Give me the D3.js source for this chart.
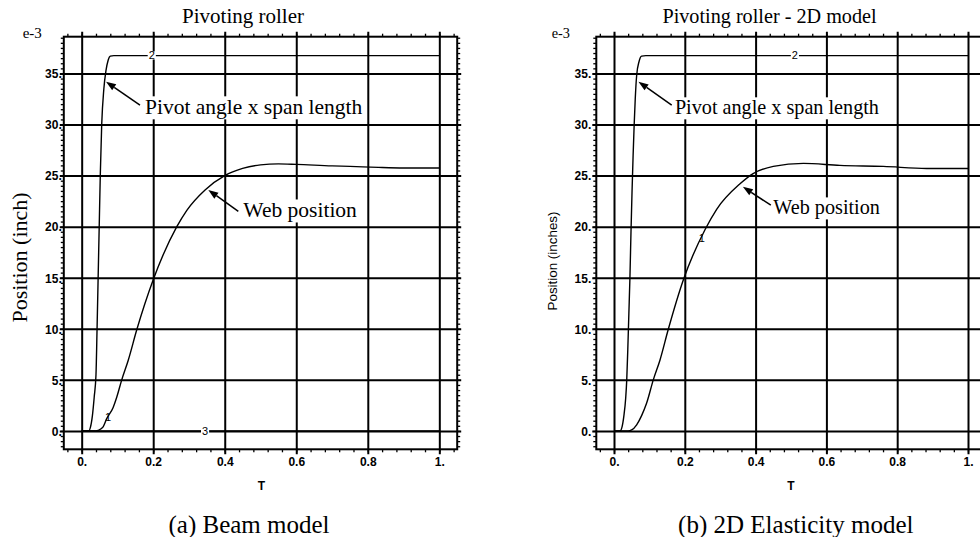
<!DOCTYPE html>
<html>
<head>
<meta charset="utf-8">
<script src="https://cdn.jsdelivr.net/npm/d3@7"></script>
<style>
  html, body { margin: 0; padding: 0; background: #fff; }
  svg { display: block; }
  text { fill: #000; }
</style>
</head>
<body>
<svg id="chart" width="980" height="537"></svg>
<script>
// ---------------- DATA ----------------
const xTickValues = [0, 0.2, 0.4, 0.6, 0.8, 1.0];
const xTickLabels = ["0.", "0.2", "0.4", "0.6", "0.8", "1."];
const yTickValues = [0, 5, 10, 15, 20, 25, 30, 35];
const yTickLabels = ["0.", "5.", "10.", "15.", "20.", "25.", "30.", "35."];

// (a) Beam model
const beamPivotT = [0, 0.02, 0.024, 0.03, 0.035, 0.04, 0.043, 0.046, 0.049, 0.052, 0.056, 0.062, 0.068, 0.074, 0.08, 0.09, 1.0];
const beamPivotY = [0, 0, 0.3, 1.5, 3.3, 5.5, 10, 15, 20, 25, 30, 33.5, 35.3, 36.3, 36.7, 36.75, 36.75];
const beamWebT = [0, 0.04, 0.046, 0.06, 0.07, 0.088, 0.098, 0.112, 0.13, 0.154, 0.2, 0.266, 0.294, 0.345, 0.4, 0.45, 0.5, 0.55, 0.6, 0.7, 0.75, 0.83, 0.9, 1.0];
const beamWebY = [0, 0, 0.05, 0.4, 1.2, 2.3, 3.3, 5.0, 6.9, 9.9, 14.8, 20, 21.6, 23.6, 25, 25.7, 26.05, 26.15, 26.1, 25.95, 25.9, 25.8, 25.75, 25.75];
const beamZeroT = [0, 1.0];
const beamZeroY = [0, 0];

// (b) 2D Elasticity model
const elasPivotT = [0, 0.017, 0.022, 0.028, 0.033, 0.036, 0.039, 0.042, 0.045, 0.048, 0.051, 0.054, 0.057, 0.060, 0.064, 0.071, 0.078, 0.09, 1.0];
const elasPivotY = [0, 0, 0.3, 1.5, 3.2, 5, 8, 11.5, 15, 19.5, 23.5, 27, 30, 32.5, 34.8, 36.2, 36.7, 36.75, 36.75];
const elasWebT = [0, 0.04, 0.05, 0.064, 0.078, 0.092, 0.111, 0.13, 0.153, 0.196, 0.257, 0.29, 0.356, 0.393, 0.45, 0.535, 0.638, 0.761, 0.883, 1.0];
const elasWebY = [0, 0, 0.1, 0.6, 1.5, 2.7, 5, 6.95, 9.9, 14.8, 19.7, 21.7, 24.2, 25.2, 25.9, 26.2, 26.0, 25.9, 25.7, 25.7];

const xDomain = [-0.05, 1.05];
const yDomain = [-1.8, 38.6];

// ---------------- DRAW ----------------
const svg = d3.select("#chart");
const SERIF = "'Liberation Serif', 'Times New Roman', serif";
const SANS = "'Liberation Sans', Arial, Helvetica, sans-serif";

function zip(a, b) { return a.map((t, i) => [t, b[i]]); }

function drawPanel(cfg) {
  const x = d3.scaleLinear().domain(xDomain).range(cfg.xRange);
  const y = d3.scaleLinear().domain(yDomain).range(cfg.yRange);
  const left = cfg.xRange[0], right = cfg.xRange[1];
  const bottom = cfg.yRange[0], top = cfg.yRange[1];
  const w = right - left, h = bottom - top;
  const g = svg.append("g");

  // Major grid lines (extend slightly beyond frame like ticks)
  const gx = g.append("g").attr("transform", `translate(0,${bottom + 5})`)
    .call(d3.axisBottom(x).tickValues(xTickValues).tickSize(-(h + 10)).tickFormat(""));
  gx.select(".domain").remove();
  gx.selectAll("line").attr("stroke", "#000").attr("stroke-width", 2);

  const gy = g.append("g").attr("transform", `translate(${left - 4},0)`)
    .call(d3.axisLeft(y).tickValues(yTickValues).tickSize(-(w + 8)).tickFormat(""));
  gy.select(".domain").remove();
  gy.selectAll("line").attr("stroke", "#000").attr("stroke-width", 2);

  // Minor ticks
  const minorX = d3.range(-1, 27).map(i => i * 0.04).filter(v => v > xDomain[0] && v < xDomain[1]);
  const minorY = d3.range(-3, 78).map(i => i * 0.5).filter(v => v > yDomain[0] && v < yDomain[1]);
  const minors = [
    [d3.axisBottom(x).tickValues(minorX), `translate(0,${bottom})`],
    [d3.axisTop(x).tickValues(minorX), `translate(0,${top})`],
    [d3.axisLeft(y).tickValues(minorY), `translate(${left},0)`],
    [d3.axisRight(y).tickValues(minorY), `translate(${right},0)`]
  ];
  minors.forEach(([ax, tr]) => {
    const m = g.append("g").attr("transform", tr).call(ax.tickSize(3).tickFormat(""));
    m.select(".domain").remove();
    m.selectAll("line").attr("stroke", "#000").attr("stroke-width", 1.3);
  });

  // Frame
  g.append("rect").attr("x", left).attr("y", top).attr("width", w).attr("height", h)
    .attr("fill", "none").attr("stroke", "#000").attr("stroke-width", 2);

  // Tick labels
  const lx = g.append("g").attr("transform", `translate(0,${bottom})`)
    .call(d3.axisBottom(x).tickValues(xTickValues).tickSize(0).tickFormat((d, i) => xTickLabels[i]));
  lx.select(".domain").remove();
  lx.selectAll("text").attr("y", 17).attr("dy", 0)
    .attr("font-family", SANS).attr("font-weight", "bold").attr("font-size", 12).attr("fill", "#000");

  const ly = g.append("g").attr("transform", `translate(${left - cfg.yLabelGap},0)`)
    .call(d3.axisLeft(y).tickValues(yTickValues).tickSize(0).tickPadding(0).tickFormat((d, i) => yTickLabels[i]));
  ly.select(".domain").remove();
  ly.selectAll("text").attr("x", 0).attr("dy", "0.36em")
    .attr("font-family", SANS).attr("font-weight", "bold").attr("font-size", 12).attr("fill", "#000");

  // e-3
  g.append("text").attr("x", cfg.expPos[0]).attr("y", cfg.expPos[1])
    .attr("font-family", SERIF).attr("font-size", cfg.expSize).attr("fill", "#000").text("e-3");

  // Axis titles
  g.append("text").attr("x", (left + right) / 2 + cfg.tOffset).attr("y", 490)
    .attr("text-anchor", "middle").attr("font-family", SANS).attr("font-weight", "bold")
    .attr("font-size", 12).attr("fill", "#000").text("T");

  g.append("text").attr("transform", `translate(${cfg.yTitlePos[0]},${cfg.yTitlePos[1]}) rotate(-90)`)
    .attr("text-anchor", "middle").attr("font-family", cfg.yTitleFont)
    .attr("font-size", cfg.yTitleSize).attr("fill", "#000").text(cfg.yTitle);

  // Title
  g.append("text").attr("x", cfg.titlePos[0]).attr("y", cfg.titlePos[1])
    .attr("text-anchor", "middle").attr("font-family", SERIF)
    .attr("font-size", cfg.titleSize).attr("fill", "#000").text(cfg.title);

  // Caption
  g.append("text").attr("x", cfg.captionPos[0]).attr("y", cfg.captionPos[1])
    .attr("text-anchor", "middle").attr("font-family", SERIF)
    .attr("font-size", 25).attr("fill", "#000").text(cfg.caption);

  // Curves
  const line = d3.line().x(d => x(d[0])).y(d => y(d[1])).curve(d3.curveMonotoneX);
  cfg.series.forEach(s => {
    g.append("path").datum(zip(s.t, s.v)).attr("d", line)
      .attr("fill", "none").attr("stroke", "#000").attr("stroke-width", 1.4);
  });

  // Curve number labels
  cfg.curveLabels.forEach(c => {
    const t = g.append("text").attr("x", x(c.t)).attr("y", y(c.v)).attr("dy", "0.35em")
      .attr("text-anchor", "middle").attr("font-family", SANS).attr("font-size", 11)
      .attr("fill", "#000").text(c.label);
    const bb = t.node().getBBox();
    if (c.bg) {
      g.insert("rect", () => t.node()).attr("x", bb.x - 1).attr("y", bb.y + 2)
        .attr("width", bb.width + 2).attr("height", bb.height - 4).attr("fill", "#fff");
    }
  });

  // Annotations with arrows
  cfg.annotations.forEach(a => {
    const t = g.append("text").attr("x", x(a.textAt[0])).attr("y", y(a.textAt[1]))
      .attr("font-family", SERIF).attr("font-size", cfg.annSize).attr("fill", "#000").text(a.text);
    const bb = t.node().getBBox();
    g.insert("rect", () => t.node()).attr("x", bb.x - 2).attr("y", bb.y + 1)
      .attr("width", bb.width + 4).attr("height", bb.height - 1).attr("fill", "#fff");
    const x1 = x(a.tail[0]), y1 = y(a.tail[1]), x2 = x(a.tip[0]), y2 = y(a.tip[1]);
    const ang = Math.atan2(y2 - y1, x2 - x1);
    const L = 10, W = 3.6;
    const bx = x2 - L * Math.cos(ang), by = y2 - L * Math.sin(ang);
    g.append("line").attr("x1", x1).attr("y1", y1).attr("x2", bx).attr("y2", by)
      .attr("stroke", "#000").attr("stroke-width", 1.5);
    g.append("path")
      .attr("d", `M${x2},${y2}L${bx + W * Math.sin(ang)},${by - W * Math.cos(ang)}L${bx - W * Math.sin(ang)},${by + W * Math.cos(ang)}Z`)
      .attr("fill", "#000");
  });
}

drawPanel({
  xRange: [63.8, 457.2],
  yRange: [449.3, 36.7],
  yLabelGap: 2,
  expPos: [22.7, 38.3], expSize: 15,
  tOffset: 1,
  yTitle: "Position (inch)", yTitleFont: SERIF, yTitleSize: 22, yTitlePos: [26.7, 257.5],
  title: "Pivoting roller", titlePos: [243, 23.3], titleSize: 21,
  caption: "(a) Beam model", captionPos: [249, 533],
  annSize: 21.5,
  series: [
    { t: beamZeroT, v: beamZeroY },
    { t: beamPivotT, v: beamPivotY },
    { t: beamWebT, v: beamWebY }
  ],
  curveLabels: [
    { label: "2", t: 0.196, v: 36.75, bg: true },
    { label: "1", t: 0.074, v: 1.3, bg: false },
    { label: "3", t: 0.345, v: 0, bg: true }
  ],
  annotations: [
    { text: "Pivot angle x span length", textAt: [0.177, 31.0], tail: [0.163, 31.9], tip: [0.068, 34.2] },
    { text: "Web position", textAt: [0.452, 20.9], tail: [0.438, 21.5], tip: [0.354, 23.6] }
  ]
});

drawPanel({
  xRange: [596.3, 985.7],
  yRange: [449.3, 36.7],
  yLabelGap: 5,
  expPos: [551.7, 38], expSize: 14.3,
  tOffset: 0,
  yTitle: "Position (inches)", yTitleFont: SANS, yTitleSize: 13.4, yTitlePos: [557, 261],
  title: "Pivoting roller - 2D model", titlePos: [769.5, 23.3], titleSize: 20.2,
  caption: "(b) 2D Elasticity model", captionPos: [795.8, 533],
  annSize: 20.2,
  series: [
    { t: elasPivotT, v: elasPivotY },
    { t: elasWebT, v: elasWebY }
  ],
  curveLabels: [
    { label: "2", t: 0.511, v: 36.75, bg: true },
    { label: "1", t: 0.248, v: 18.9, bg: false }
  ],
  annotations: [
    { text: "Pivot angle x span length", textAt: [0.172, 31.0], tail: [0.163, 31.9], tip: [0.069, 34.2] },
    { text: "Web position", textAt: [0.45, 21.2], tail: [0.443, 22.1], tip: [0.364, 23.9] }
  ]
});
</script>
</body>
</html>
